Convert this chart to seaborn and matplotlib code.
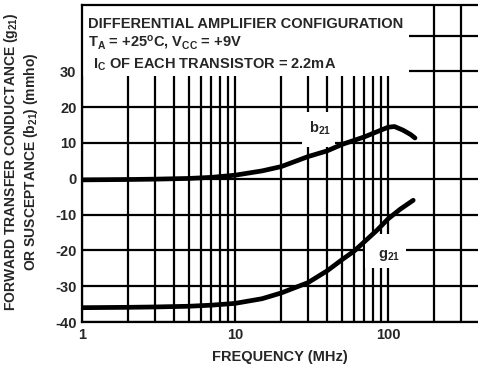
import matplotlib
matplotlib.use("Agg")
import matplotlib.pyplot as plt
import seaborn as sns
import pandas as pd
from matplotlib.patches import Rectangle
from matplotlib.ticker import LogLocator, NullFormatter

# values
freq_b = [1, 2, 3, 5, 7, 10, 15, 20, 30, 40, 50, 70, 100, 110, 125, 140, 150]
b21 = [-0.3, -0.2, -0.1, 0.1, 0.4, 1.0, 2.2, 3.4, 6.2, 7.8, 9.6, 11.7, 14.4, 14.6, 13.6, 12.4, 11.4]

freq_g = [1, 2, 3, 5, 7, 10, 15, 20, 30, 40, 50, 60, 70, 85, 100, 120, 146]
g21 = [-36.0, -35.9, -35.8, -35.6, -35.3, -34.8, -33.5, -31.9, -29.0, -25.7,
       -22.6, -20.2, -17.6, -14.3, -11.2, -8.5, -6.0]

x_ticks = [1, 10, 100]
x_labels = ["1", "10", "100"]
y_ticks = [-40, -30, -20, -10, 0, 10, 20, 30, 40]
y_labels = ["-40", "-30", "-20", "-10", "0", "10", "20", "30", ""]

sns.set_style("white")
plt.rcParams["font.family"] = ["Liberation Sans", "DejaVu Sans"]
plt.rcParams["font.weight"] = "bold"
plt.rcParams["mathtext.fontset"] = "custom"
plt.rcParams["mathtext.rm"] = "Liberation Sans:bold"
plt.rcParams["mathtext.it"] = "Liberation Sans:bold"
plt.rcParams["mathtext.bf"] = "Liberation Sans:bold"

df_b = pd.DataFrame({"freq": freq_b, "val": b21})
df_g = pd.DataFrame({"freq": freq_g, "val": g21})

fig = plt.figure(figsize=(4.78, 3.68), dpi=100)
ax = fig.add_axes([0.1715, 0.125, 0.8285, 0.861])
ax.set_xscale("log")

sns.lineplot(data=df_b, x="freq", y="val", ax=ax, color="black", lw=3.4, zorder=3)
sns.lineplot(data=df_g, x="freq", y="val", ax=ax, color="black", lw=3.4, zorder=3)

ax.set_xlim(1, 387)
ax.set_ylim(-40, 48.5)
ax.set_xticks(x_ticks, x_labels)
ax.xaxis.set_minor_locator(LogLocator(base=10, subs=range(2, 10)))
ax.xaxis.set_minor_formatter(NullFormatter())
ax.set_yticks(y_ticks, y_labels)
ax.tick_params(which="both", length=0, labelsize=10.5, pad=4)
for lab in ax.get_xticklabels() + ax.get_yticklabels():
    lab.set_fontweight("bold")

ax.set_axisbelow(True)
ax.grid(True, which="both", color="black", lw=1.6)

# white areas that break the grid behind the text
for (x0, x1, y0, y1) in [(1, 138, 28.6, 48.5), (27.4, 45, 9.0, 18.6), (71, 131, -25, -15.5)]:
    ax.add_patch(Rectangle((x0, y0), x1 - x0, y1 - y0, facecolor="white",
                           edgecolor="none", zorder=1))

for s in ["left", "bottom", "top"]:
    ax.spines[s].set_color("black")
    ax.spines[s].set_linewidth(1.6)
ax.spines["right"].set_visible(False)

ax.text(0.015, 0.927, "DIFFERENTIAL AMPLIFIER CONFIGURATION", transform=ax.transAxes,
        fontsize=10.5, fontweight="bold", va="baseline", zorder=4)
ax.text(0.015, 0.868, r"T$_{A}$ = +25$^{o}$C, V$_{CC}$ = +9V", transform=ax.transAxes,
        fontsize=10.5, fontweight="bold", va="baseline", zorder=4)
ax.text(0.028, 0.801, r"I$_{C}$ OF EACH TRANSISTOR = 2.2mA", transform=ax.transAxes,
        fontsize=10.5, fontweight="bold", va="baseline", zorder=4)

ax.text(30.4, 13.0, r"b$_{21}$", fontsize=10.5, fontweight="bold", va="baseline", zorder=4)
ax.text(86, -22.2, r"g$_{21}$", fontsize=10.5, fontweight="bold", va="baseline", zorder=4)

ax.set_xlabel("FREQUENCY (MHz)", fontsize=10.5, fontweight="bold", labelpad=6)
ax.set_ylabel("FORWARD TRANSFER CONDUCTANCE (g$_{21}$)\nOR SUSCEPTANCE (b$_{21}$) (mmho)",
              fontsize=10, fontweight="bold", linespacing=1.1)
ax.yaxis.set_label_coords(-0.107, 0.505)

fig.savefig("out.png", dpi=100)
